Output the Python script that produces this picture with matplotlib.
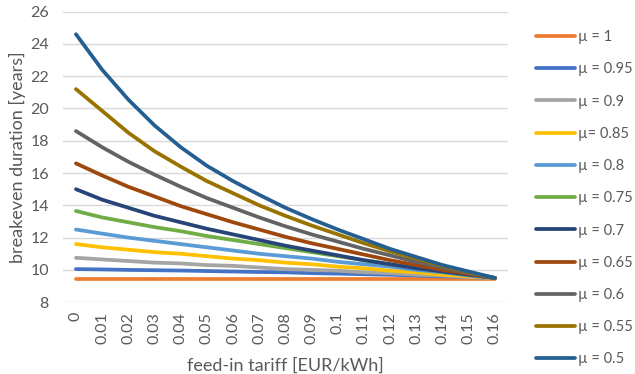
import matplotlib.pyplot as plt

tariffs = ['0', '0.01', '0.02', '0.03', '0.04', '0.05', '0.06', '0.07', '0.08',
           '0.09', '0.1', '0.11', '0.12', '0.13', '0.14', '0.15', '0.16']

labels = ['µ = 1', 'µ = 0.95', 'µ = 0.9', 'µ= 0.85', 'µ = 0.8', 'µ = 0.75',
          'µ = 0.7', 'µ = 0.65', 'µ = 0.6', 'µ = 0.55', 'µ = 0.5']

mu_100 = [9.45, 9.45, 9.45, 9.45, 9.45, 9.45, 9.45, 9.45, 9.45, 9.45, 9.45, 9.45, 9.45, 9.45, 9.45, 9.45, 9.45]
mu_095 = [10.05, 10.03, 10.0, 9.98, 9.96, 9.93, 9.9, 9.87, 9.85, 9.8, 9.77, 9.73, 9.7, 9.65, 9.6, 9.55, 9.5]
mu_090 = [10.75, 10.65, 10.55, 10.45, 10.4, 10.3, 10.25, 10.15, 10.05, 10.0, 9.95, 9.85, 9.8, 9.7, 9.65, 9.55, 9.5]
mu_085 = [11.6, 11.4, 11.25, 11.1, 11.0, 10.85, 10.7, 10.6, 10.45, 10.35, 10.2, 10.1, 9.95, 9.85, 9.7, 9.6, 9.5]
mu_080 = [12.5, 12.25, 12.0, 11.8, 11.6, 11.4, 11.2, 11.0, 10.85, 10.7, 10.5, 10.35, 10.2, 10.0, 9.85, 9.65, 9.5]
mu_075 = [13.65, 13.25, 12.95, 12.65, 12.4, 12.1, 11.85, 11.6, 11.35, 11.1, 10.85, 10.6, 10.35, 10.15, 9.9, 9.7, 9.5]
mu_070 = [15.0, 14.35, 13.85, 13.35, 12.95, 12.55, 12.2, 11.85, 11.5, 11.2, 10.9, 10.6, 10.35, 10.1, 9.9, 9.7, 9.5]
mu_065 = [16.6, 15.85, 15.15, 14.55, 13.95, 13.45, 12.95, 12.5, 12.05, 11.65, 11.3, 10.95, 10.6, 10.3, 10.0, 9.75, 9.5]
mu_060 = [18.6, 17.6, 16.7, 15.9, 15.15, 14.45, 13.85, 13.25, 12.7, 12.2, 11.75, 11.3, 10.9, 10.5, 10.15, 9.8, 9.5]
mu_055 = [21.2, 19.85, 18.5, 17.35, 16.4, 15.5, 14.75, 14.0, 13.35, 12.75, 12.2, 11.65, 11.15, 10.7, 10.25, 9.85, 9.5]
mu_050 = [24.6, 22.4, 20.55, 18.95, 17.6, 16.45, 15.5, 14.65, 13.85, 13.15, 12.5, 11.9, 11.3, 10.8, 10.3, 9.9, 9.5]

series = [mu_100, mu_095, mu_090, mu_085, mu_080, mu_075,
          mu_070, mu_065, mu_060, mu_055, mu_050]
colors = ['#ED7D31', '#4472C4', '#A5A5A5', '#FFC000', '#5B9BD5', '#70AD47',
          '#264478', '#9E480E', '#636363', '#997300', '#255E91']

plt.rcParams['font.family'] = ['Lato', 'DejaVu Sans']
text_color = '#595959'

fig = plt.figure(figsize=(6.35, 3.74), dpi=100)
ax = fig.add_axes([0.099, 0.192, 0.701, 0.777])

x = list(range(len(tariffs)))
for vals, lab, col in zip(series, labels, colors):
    ax.plot(x, vals, color=col, lw=2.7, label=lab, solid_capstyle='round')

ax.set_xlim(-0.5, len(tariffs) - 0.5)
ax.set_ylim(8, 26)
ax.set_yticks(range(8, 27, 2))
ax.set_xticks(x)
ax.set_xticklabels(tariffs, rotation=90)
ax.tick_params(length=0, labelsize=11.5, colors=text_color)
ax.tick_params(axis='x', pad=7)
ax.tick_params(axis='y', pad=10)
ax.grid(axis='y', color='#D9D9D9', lw=1)
ax.set_axisbelow(True)
for s in ax.spines.values():
    s.set_visible(False)

ax.set_xlabel('feed-in tariff [EUR/kWh]', fontsize=13, color=text_color, labelpad=10)
ax.set_ylabel('breakeven duration [years]', fontsize=13, color=text_color, labelpad=3)

leg = fig.legend(loc='upper left', bbox_to_anchor=(0.835, 0.935), frameon=False,
                 fontsize=10.5, handlelength=2.7, handletextpad=0.15,
                 labelspacing=1.25, borderaxespad=0)
for t in leg.get_texts():
    t.set_color(text_color)

fig.savefig('out.png', dpi=100)
